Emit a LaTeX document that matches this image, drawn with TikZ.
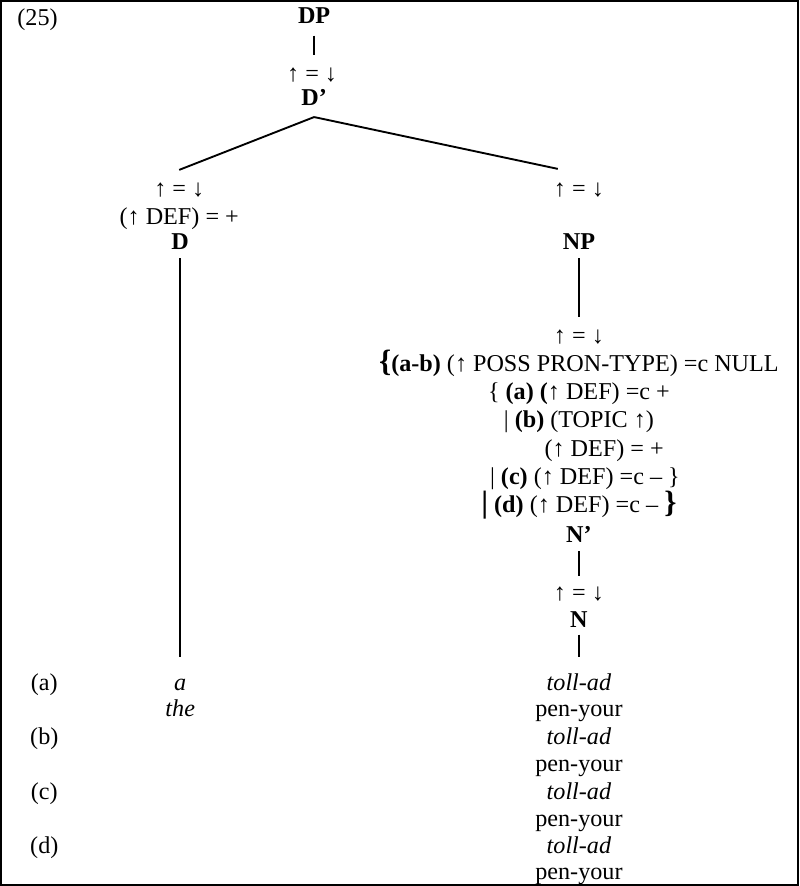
\documentclass[tikz,border=0pt]{standalone}
\usepackage{fontspec}
\setmainfont{Liberation Serif}
\newcommand{\bigbr}[1]{\textbf{\fontsize{23pt}{23pt}\selectfont #1}}
\begin{document}
\begin{tikzpicture}[x=0.75pt,y=-0.75pt,
  every node/.style={inner sep=0pt, anchor=base, text height=11.5pt, text depth=3pt,
    font=\fontsize{18pt}{21pt}\selectfont},
  cat/.style={font=\fontsize{18pt}{21pt}\selectfont\bfseries},
  ex/.style={font=\fontsize{18pt}{21pt}\selectfont\itshape},
  edge/.style={line width=1.4pt},
  frame/.style={line width=1.5pt}]

% frame
\draw[frame] (4,4) rectangle (796,882);

% example number
\node[anchor=base west] (num) at (20,28) {(25)};

% DP and D'
\node[cat] (DP) at (315,26) {DP};
\node (eqdp) at (313,84) {↑ = ↓};
\node[cat] (Dbar) at (315,108) {D’};

% left daughter: D
\node (eqd) at (181,198) {↑ = ↓};
\node (defd) at (181,226) {(↑ DEF) = +};
\node[cat] (D) at (182,251) {D};

% right daughter: NP
\node (eqnp) at (578,198) {↑ = ↓};
\node[cat] (NP) at (578,251) {NP};

% annotations on N'
\node (eqnb) at (578,344) {↑ = ↓};
\node (c1) at (578,372) {\bigbr{\{}\textbf{(a-b)} (↑ POSS PRON-TYPE) =c NULL};
\node (c2) at (578,400) {\{ \textbf{(a) (}↑ DEF) =c +};
\node (c3) at (578,428) {| \textbf{(b)} (TOPIC ↑)};
\node (c4) at (603,456) {(↑ DEF) = +};
\node (c5) at (584,484) {| \textbf{(c)} (↑ DEF) =c – \}};
\node (c6) at (578,512) {\bigbr{|} \textbf{(d)} (↑ DEF) =c – \bigbr{\}}};
\node[cat] (Nbar) at (578,542) {N’};
\node (eqn) at (578,599) {↑ = ↓};
\node[cat] (N) at (578,626) {N};

% example rows
\node (la) at (47,689) {(a)};
\node (lb) at (47,742) {(b)};
\node (lc) at (47,797) {(c)};
\node (ld) at (47,851) {(d)};
\node[ex] (wa) at (182,689) {a};
\node[ex] (wthe) at (182,715) {the};
\node[ex] (ta) at (578,689) {toll-ad};
\node (ga) at (578,715) {pen-your};
\node[ex] (tb) at (578,742) {toll-ad};
\node (gb) at (578,769) {pen-your};
\node[ex] (tc) at (578,797) {toll-ad};
\node (gc) at (578,824) {pen-your};
\node[ex] (td) at (578,851) {toll-ad};
\node (gd) at (578,877) {pen-your};

% tree branches
\draw[edge, shorten <=6pt, shorten >=8pt] (DP.south) -- (DP.south |- eqdp.north);
\draw[edge] ([yshift=-5.25pt]Dbar.south) -- ([yshift=8pt]eqd.north);
\draw[edge] ([yshift=-5.25pt]Dbar.south) -- ([xshift=-15.75pt,yshift=8.75pt]eqnp.north);
\draw[edge, shorten <=3pt, shorten >=13.25pt] (D.south) -- (wa.north);
\draw[edge, shorten <=3pt, shorten >=8pt] (NP.south) -- (eqnb.north);
\draw[edge, shorten <=3pt, shorten >=6.5pt] (Nbar.south) -- (eqn.north);
\draw[edge, shorten <=2.25pt, shorten >=13.25pt] (N.south) -- (ta.north);
\end{tikzpicture}
\end{document}
